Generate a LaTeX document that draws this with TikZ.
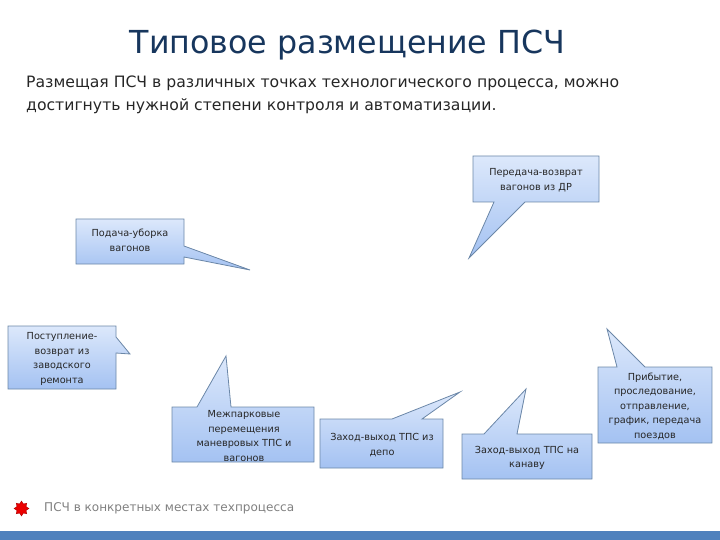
\documentclass[tikz,border=0pt]{standalone}
\usepackage{fontspec}
\setmainfont{DejaVu Sans}
\usepackage{xcolor}
\usetikzlibrary{shapes.geometric}
\definecolor{titlec}{HTML}{17365D}
\definecolor{linec}{HTML}{6B87A8}
\definecolor{topc}{HTML}{DCE8FB}
\definecolor{botc}{HTML}{A4C2F2}
\definecolor{barc}{HTML}{4F81BD}
\tikzset{
  callout/.style={draw=linec,thick,top color=topc,bottom color=botc},
  lbl/.style={align=center,font=\fontsize{9.7}{14.5}\selectfont,text=black!85,inner sep=0pt}
}
\begin{document}
\begin{tikzpicture}[x=1pt,y=-1pt]
\useasboundingbox (0,0) rectangle (720,540);
\fill[barc] (0,531) rectangle (720,540);
\node[font=\fontsize{31.7}{36}\selectfont,text=titlec,inner sep=0pt] (title) at (347.5,45.5) {Типовое размещение ПСЧ};
\node[font=\fontsize{15.66}{23}\selectfont,text=black!85,align=left,anchor=north west,inner sep=0pt] (intro) at (26,75.5)
  {Размещая ПСЧ в различных точках технологического процесса, можно\\достигнуть нужной степени контроля и автоматизации.};
% callouts
\draw[callout] (473,156)--(599,156)--(599,202)--(525,202)--(469,258)--(494,202)--(473,202)--cycle;
\draw[callout] (76,219)--(184,219)--(184,246)--(250,270)--(184,257)--(184,264)--(76,264)--cycle;
\draw[callout] (8,326)--(116,326)--(116,337)--(130,354)--(116,353)--(116,389)--(8,389)--cycle;
\draw[callout] (172,407)--(197,407)--(226,356)--(231,407)--(314,407)--(314,462)--(172,462)--cycle;
\draw[callout] (320,419)--(392,419)--(460,392)--(422,419)--(443,419)--(443,468)--(320,468)--cycle;
\draw[callout] (462,434)--(484,434)--(526,389)--(517,434)--(592,434)--(592,479)--(462,479)--cycle;
\draw[callout] (598,367)--(617,367)--(607,329)--(645,367)--(712,367)--(712,443)--(598,443)--cycle;
\node[lbl] (dr) at (536,180) {Передача-возврат\\вагонов из ДР};
\node[lbl] (feed) at (130,240.5) {Подача-уборка\\вагонов};
\node[lbl] (repair) at (62,359) {Поступление-\\возврат из\\заводского\\ремонта};
\node[lbl] (park) at (244,436) {Межпарковые\\перемещения\\маневровых ТПС и\\вагонов};
\node[lbl] (depot) at (382,445) {Заход-выход ТПС из\\депо};
\node[lbl] (pit) at (527,458) {Заход-выход ТПС на\\канаву};
\node[lbl] (train) at (655,406) {Прибытие,\\проследование,\\отправление,\\график, передача\\поездов};
% legend
\node[star,star points=8,star point ratio=1.55,fill=red!92!black,draw=red!70!black,minimum size=15pt,inner sep=0pt] (mark) at (21.5,508.5) {};
\node[font=\fontsize{12.05}{15}\selectfont,text=black!50,anchor=west,inner sep=0pt] (legend) at (44,508.5) {ПСЧ в конкретных местах техпроцесса};
\end{tikzpicture}
\end{document}
